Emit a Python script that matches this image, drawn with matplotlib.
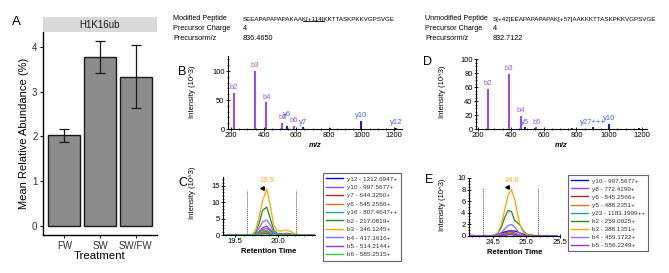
import matplotlib
matplotlib.use('Agg')
import matplotlib.pyplot as plt
from matplotlib.ticker import MultipleLocator
from matplotlib.lines import Line2D
from matplotlib import font_manager

plt.rcParams['font.family'] = ['Liberation Sans', 'DejaVu Sans']

# ---- panel A data ----
treatments = ['FW', 'SW', 'SW/FW']
abundance = [2.03, 3.79, 3.33]
err_low = [1.88, 3.43, 2.63]
err_high = [2.17, 4.13, 4.04]

# ---- panel B spectrum (modified) ----
b_mz = [217.08, 346.12, 417.16, 514.21, 545.26, 585.25, 644.33, 807.46, 997.57, 1212.69]
b_int = [62, 100, 46, 11, 5, 6, 3, 1.5, 14, 2.5]
b_ion = ['b2', 'b3', 'b4', 'b5', 'y6', 'b6', 'y7', '', 'y10', 'y12']

# ---- panel D spectrum (unmodified) ----
d_mz = [259.09, 388.14, 459.17, 488.24, 545.26, 556.22, 772.42, 900.5, 997.57, 1183.2]
d_int = [57, 79, 19, 2.3, 1.5, 2.5, 1, 2.5, 7.5, 1]
d_ion = ['b2', 'b3', 'b4', 'y5', '', 'b5', '', 'y27+++', 'y10', '']

# ---- panel C chromatogram ----
tC = [19.38, 19.45, 19.52, 19.58, 19.64, 19.70, 19.74, 19.78, 19.82, 19.87,
      19.91, 19.95, 19.99, 20.04, 20.09, 20.14, 20.19, 20.25, 20.32, 20.42]
c_labels = ['y12 - 1212.6947+', 'y10 - 997.5677+', 'y7 - 644.3250+', 'y6 - 545.2566+',
            'y16 - 807.4647++', 'b2 - 217.0819+', 'b3 - 346.1245+', 'b4 - 417.1616+',
            'b5 - 514.2144+', 'b6 - 585.2515+']
c_y12 = [0.1, 0.1, 0, 0.1, 0, 0, 0.1, 0.2, 0.5, 0.6, 0.4, 0.2, 0.1, 0, 0.1, 0, 0.1, 0, 0.1, 0]
c_y10 = [0, 0, 0, 0, 0, 0, 0.2, 0.8, 1.7, 2.0, 1.2, 0.3, 0.1, 0, 0.1, 0, 0, 0, 0, 0]
c_y7 = [0, 0, 0, 0, 0, 0, 0.1, 0.4, 0.9, 1.0, 0.6, 0.2, 0, 0, 0, 0, 0, 0, 0, 0]
c_y6 = [0, 0, 0, 0, 0, 0, 0.1, 0.3, 0.7, 0.8, 0.5, 0.1, 0, 0, 0, 0, 0, 0, 0, 0]
c_y16 = [0, 0, 0, 0, 0, 0, 0, 0.1, 0.3, 0.3, 0.2, 0.1, 0, 0, 0, 0, 0, 0, 0, 0]
c_b2 = [0, 0, 0, 0, 0, 0, 0.8, 3.5, 7.5, 8.5, 5.0, 1.5, 0.5, 0.4, 0.5, 0.4, 0.1, 0, 0, 0]
c_b3 = [0, 0, 0, 0, 0, 0.1, 1.5, 5.5, 10.5, 14.0, 9.0, 3.0, 1.3, 1.2, 1.5, 1.2, 0.4, 0.1, 0, 0]
c_b4 = [0, 0, 0, 0, 0, 0, 0.4, 2.0, 4.0, 4.6, 3.0, 0.8, 0.3, 0.2, 0.3, 0.2, 0, 0, 0, 0]
c_b5 = [0, 0, 0, 0, 0, 0, 0.2, 1.0, 2.2, 2.7, 1.6, 0.4, 0.1, 0, 0.1, 0, 0, 0, 0, 0]
c_b6 = [0, 0, 0, 0, 0, 0, 0.1, 0.6, 1.3, 1.5, 0.9, 0.2, 0, 0, 0, 0, 0, 0, 0, 0]
c_series = [c_y12, c_y10, c_y7, c_y6, c_y16, c_b2, c_b3, c_b4, c_b5, c_b6]
c_colors = ['#0000ff', '#a040ff', '#a52a2a', '#e0701e', '#20a0a0', '#228b22',
            '#ffa500', '#8470ff', '#9932cc', '#32cd32']

# ---- panel E chromatogram ----
tE = [24.15, 24.22, 24.30, 24.38, 24.45, 24.52, 24.58, 24.63, 24.68, 24.73, 24.78,
      24.83, 24.87, 24.91, 24.96, 25.01, 25.06, 25.12, 25.20, 25.30, 25.40, 25.46]
e_labels = ['y10 - 997.5677+', 'y8 - 772.4199+', 'y6 - 545.2566+', 'y5 - 488.2351+',
            'y23 - 1183.1999++', 'b2 - 259.0925+', 'b3 - 388.1351+', 'b4 - 459.1722+',
            'b5 - 556.2249+']
e_y10 = [0.1, 0.1, 0, 0.1, 0, 0.1, 0.3, 0.5, 0.7, 0.85, 0.9, 0.85, 0.7, 0.5, 0.3, 0.2, 0.1, 0, 0, 0.1, 0, 0]
e_y8 = [0, 0, 0, 0, 0, 0, 0.1, 0.2, 0.3, 0.4, 0.4, 0.3, 0.2, 0.1, 0, 0, 0, 0, 0, 0, 0, 0]
e_y6 = [0, 0, 0, 0, 0, 0, 0.1, 0.2, 0.5, 0.7, 0.7, 0.5, 0.3, 0.1, 0, 0, 0, 0, 0, 0, 0, 0]
e_y5 = [0, 0, 0, 0, 0, 0, 0, 0.2, 0.4, 0.5, 0.5, 0.4, 0.2, 0.1, 0, 0, 0, 0, 0, 0, 0, 0]
e_y23 = [0, 0, 0, 0, 0, 0, 0, 0.1, 0.1, 0.2, 0.2, 0.1, 0.1, 0, 0, 0, 0, 0, 0, 0, 0, 0]
e_b2 = [0, 0, 0, 0, 0, 0.1, 0.5, 1.5, 3.2, 4.4, 4.2, 2.6, 2.3, 1.8, 0.8, 0.3, 0.2, 0.1, 0.1, 0, 0, 0]
e_b3 = [0, 0, 0, 0, 0, 0.1, 0.6, 2.0, 4.5, 7.0, 8.0, 6.2, 3.8, 1.8, 0.6, 0.2, 0.1, 0, 0, 0, 0, 0]
e_b4 = [0, 0, 0, 0, 0, 0, 0.2, 0.6, 1.2, 1.8, 2.0, 1.5, 0.9, 0.4, 0.1, 0, 0, 0, 0, 0, 0, 0]
e_b5 = [0, 0, 0, 0, 0, 0, 0, 0.1, 0.2, 0.3, 0.3, 0.2, 0.1, 0, 0, 0, 0, 0, 0, 0, 0, 0]
e_series = [e_y10, e_y8, e_y6, e_y5, e_y23, e_b2, e_b3, e_b4, e_b5]
e_colors = ['#0000ff', '#a040ff', '#a52a2a', '#e0701e', '#20a0a0', '#228b22',
            '#ffa500', '#8470ff', '#9932cc']

W, H = 669, 273
fig = plt.figure(figsize=(W / 100, H / 100), dpi=100)

# narrow face for the peptide sequences if it exists
installed = {f.name for f in font_manager.fontManager.ttflist}
seq_family = ['Liberation Sans Narrow'] if 'Liberation Sans Narrow' in installed else ['Liberation Sans']
seq_fs = 5.2 if 'Liberation Sans Narrow' in installed else 4.5


def px_axes(x0, y0, x1, y1):
    # pixel box (top-left origin) -> figure axes
    return fig.add_axes([x0 / W, 1 - y1 / H, (x1 - x0) / W, (y1 - y0) / H])


def ftext(x, y, s, **kw):
    return fig.text(x / W, 1 - y / H, s, **kw)


# ================= panel A =================
axA = px_axes(43, 32, 157, 235)
xs = [1, 2, 3]
yerr = [[a - l for a, l in zip(abundance, err_low)], [h - a for a, h in zip(abundance, err_high)]]
axA.bar(xs, abundance, width=0.9, color='#8c8c8c', edgecolor='#1a1a1a', linewidth=1.0)
axA.errorbar(xs, abundance, yerr=yerr, fmt='none', ecolor='#1a1a1a', elinewidth=0.9, capsize=3.5, capthick=0.9)
axA.set_xlim(0.4, 3.6)
axA.set_ylim(-0.207, 4.34)
axA.set_xticks(xs)
axA.set_xticklabels(treatments)
axA.set_yticks([0, 1, 2, 3, 4])
for s in ['top', 'right']:
    axA.spines[s].set_visible(False)
for s in ['left', 'bottom']:
    axA.spines[s].set_linewidth(1.0)
axA.tick_params(labelsize=7, colors='#333333', length=2.5, width=0.8, pad=1.5)
axA.tick_params(axis='both', color='#1a1a1a')
axA.set_xlabel('Treatment', fontsize=8.2, labelpad=0.5)
axA.set_ylabel('Mean Relative Abundance (%)', fontsize=8, labelpad=2)

strip = px_axes(43, 17, 157, 32)
strip.set_facecolor('#d9d9d9')
strip.set_xticks([])
strip.set_yticks([])
for s in strip.spines.values():
    s.set_visible(False)
strip.text(0.5, 0.5, 'H1K16ub', ha='center', va='center', fontsize=7, color='#1a1a1a',
           transform=strip.transAxes)

ftext(12, 22, 'A', fontsize=9.5, va='center', ha='left')


def style_small(ax):
    for s in ['top', 'right']:
        ax.spines[s].set_visible(False)
    for s in ['left', 'bottom']:
        ax.spines[s].set_linewidth(0.8)
    ax.tick_params(which='major', direction='inout', length=3, width=0.6, labelsize=5.5, pad=1)
    ax.tick_params(which='minor', direction='inout', length=2, width=0.5)


# labels nudged upward (points) where they crowd in the original
label_lift = {'y6': 4.5}


def spectrum(ax, mz, inten, ions):
    for m, v, ion in zip(mz, inten, ions):
        col = '#9b30ff' if ion.startswith('b') else '#0000ff'
        lcol = '#a45ce8' if ion.startswith('b') else '#4060ee'
        ax.vlines(m, 0, v, color=col, linewidth=1.3)
        if ion:
            ax.annotate(ion, (m, v), xytext=(0, 1.2 + label_lift.get(ion, 0)), textcoords='offset points',
                        ha='center', va='bottom', fontsize=5.5, color=lcol)


# ================= panel B =================
axB = px_axes(228, 56, 402, 129)
spectrum(axB, b_mz, b_int, b_ion)
axB.set_xlim(181, 1249)
axB.set_ylim(0, 126)
axB.xaxis.set_major_locator(MultipleLocator(200))
axB.xaxis.set_minor_locator(MultipleLocator(50))
axB.yaxis.set_major_locator(MultipleLocator(50))
axB.yaxis.set_minor_locator(MultipleLocator(10))
style_small(axB)
axB.set_xlabel('m/z', fontsize=5.5, fontweight='bold', fontstyle='italic', labelpad=2)
ftext(178, 72, 'B', fontsize=9, va='center')
ftext(193, 92, 'Intensity (10^3)', fontsize=5.5, rotation=90, ha='center', va='center')

# ================= panel D =================
axD = px_axes(476, 59, 647, 129)
spectrum(axD, d_mz, d_int, d_ion)
axD.set_xlim(188, 1230)
axD.set_ylim(0, 100)
axD.xaxis.set_major_locator(MultipleLocator(200))
axD.xaxis.set_minor_locator(MultipleLocator(50))
axD.yaxis.set_major_locator(MultipleLocator(20))
axD.yaxis.set_minor_locator(MultipleLocator(5))
style_small(axD)
axD.set_xlabel('m/z', fontsize=5.5, fontweight='bold', fontstyle='italic', labelpad=2)
ftext(423, 62, 'D', fontsize=9, va='center')
ftext(443, 92, 'Intensity (10^3)', fontsize=5.5, rotation=90, ha='center', va='center')


def chromatogram(ax, t, series, colors, labels, bounds, bound_top, apex, mark, lab):
    handles = []
    for ys, col, lb in zip(series, colors, labels):
        h, = ax.plot(t, ys, color=col, linewidth=0.9, label=lb)
        handles.append(h)
    for b in bounds:
        ax.plot([b, b], [0, bound_top], color='#555555', linewidth=0.7, linestyle=(0, (1, 1)))
    ax.plot([mark[0]], [mark[1]], marker='<', color='black', markersize=2.6)
    ax.plot([mark[0], mark[0] + 0.02], [mark[1], mark[1]], color='black', linewidth=0.6)
    ax.text(apex[0], apex[1], lab, ha='center', va='bottom', fontsize=5.5, color='#ffb030')
    return handles


def small_legend(ax, handles, labels, x, y, spacing):
    leg = ax.legend(handles, labels, loc='upper left', bbox_to_anchor=(x / W, 1 - y / H),
                    bbox_transform=fig.transFigure, borderaxespad=0, fontsize=4.6,
                    fancybox=False, edgecolor='#666666', framealpha=1,
                    handlelength=2.7, handletextpad=0.6, labelspacing=spacing, borderpad=0.5)
    leg.get_frame().set_linewidth(0.8)
    for txt in leg.get_texts():
        txt.set_color('#333333')
    for ln in leg.get_lines():
        ln.set_linewidth(1.0)


# ================= panel C =================
axC = px_axes(223, 177, 315, 235)
hC = chromatogram(axC, tC, c_series, c_colors, c_labels, [19.64, 20.21], 13.8,
                  (19.87, 15.6), (19.81, 14.3), '19.9')
axC.set_xlim(19.36, 20.43)
axC.set_ylim(0, 17.7)
axC.xaxis.set_major_locator(MultipleLocator(0.5))
axC.xaxis.set_minor_locator(MultipleLocator(0.1))
axC.yaxis.set_major_locator(MultipleLocator(5))
axC.yaxis.set_minor_locator(MultipleLocator(1))
style_small(axC)
axC.set_xlabel('Retention Time', fontsize=5.5, fontweight='bold', labelpad=2)
small_legend(axC, hC, c_labels, 323, 173, 0.46)
ftext(178, 183, 'C', fontsize=9, va='center')
ftext(193, 193, 'Intensity (10^3)', fontsize=5.5, rotation=90, ha='center', va='center')

# ================= panel E =================
axE = px_axes(469, 178, 560, 236)
hE = chromatogram(axE, tE, e_series, e_colors, e_labels, [24.36, 25.17], 8.3,
                  (24.79, 9.0), (24.71, 8.5), '24.8')
axE.set_xlim(24.15, 25.5)
axE.set_ylim(0, 10)
axE.xaxis.set_major_locator(MultipleLocator(0.5))
axE.xaxis.set_minor_locator(MultipleLocator(0.1))
axE.yaxis.set_major_locator(MultipleLocator(2))
axE.yaxis.set_minor_locator(MultipleLocator(0.5))
style_small(axE)
axE.set_xlabel('Retention Time', fontsize=5.5, fontweight='bold', labelpad=2)
small_legend(axE, hE, e_labels, 568, 175, 0.40)
ftext(425, 180, 'E', fontsize=9, va='center')
ftext(443, 205, 'Intensity (10^3)', fontsize=5.5, rotation=90, ha='center', va='center')

# ================= peptide headers =================
hdr_fs = 5.2
ftext(173, 19, 'Modified Peptide', fontsize=hdr_fs, va='center')
ftext(173, 29, 'Precursor Charge', fontsize=hdr_fs, va='center')
ftext(173, 38, 'Precursorm/z', fontsize=hdr_fs, va='center')
ftext(243, 29, '4', fontsize=hdr_fs, va='center')
ftext(243, 38, '836.4650', fontsize=hdr_fs, va='center')

ftext(425, 19, 'Unmodified Peptide', fontsize=hdr_fs, va='center')
ftext(425, 29, 'Precursor Charge', fontsize=hdr_fs, va='center')
ftext(425, 38, 'Precursorm/z', fontsize=hdr_fs, va='center')
ftext(493, 19, 'S[+42]EEAPAPAPAPAK[+57]AAKKKTTASKPKKVGPSVGE', fontsize=seq_fs, va='center',
      family=seq_family)
ftext(493, 29, '4', fontsize=hdr_fs, va='center')
ftext(493, 38, '832.7122', fontsize=hdr_fs, va='center')

# modified sequence, with the modified lysine underlined
seq_pre = 'SEEAPAPAPAPAKAA'
seq_site = 'K[+114]'
seq_post = 'KKTTASKPKKVGPSVGE'
ftext(243, 19, seq_pre + seq_site + seq_post, fontsize=seq_fs, va='center', family=seq_family)
fig.canvas.draw()
r = fig.canvas.get_renderer()
inv = fig.transFigure.inverted()
m1 = ftext(243, 19, seq_pre, fontsize=seq_fs, va='center', family=seq_family)
m2 = ftext(243, 19, seq_pre + seq_site, fontsize=seq_fs, va='center', family=seq_family)
b1 = m1.get_window_extent(renderer=r).transformed(inv)
b2 = m2.get_window_extent(renderer=r).transformed(inv)
m1.remove()
m2.remove()
fig.add_artist(Line2D([b1.x1, b2.x1], [b2.y0 + 0.003, b2.y0 + 0.003],
                      transform=fig.transFigure, color='black', linewidth=0.6))

fig.savefig('out.png', dpi=100)
